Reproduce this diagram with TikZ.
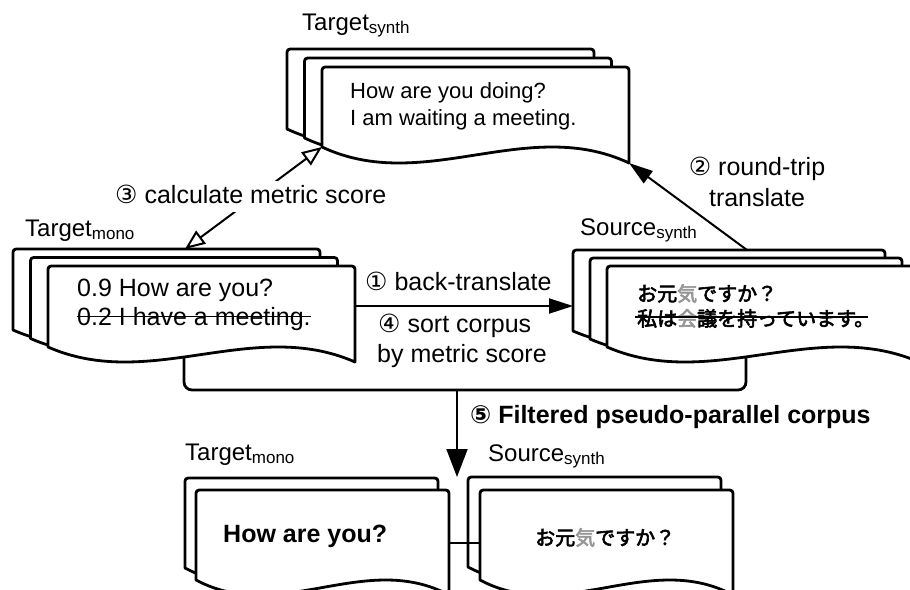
\documentclass[tikz,border=0pt]{standalone}
\usepackage{fontspec}
\setmainfont{Liberation Sans}
\newfontfamily\circfont{DejaVu Sans}
\newfontfamily\jpfont[AutoFakeBold=3]{Noto Sans CJK JP}
\usetikzlibrary{arrows.meta}
\definecolor{kanjigray}{RGB}{150,150,150}

% One sheet of a document stack: name, left x, top y, width, height, wave depth.
% Top corners rounded, wavy bottom edge; named corner coordinates are kept.
\newcommand{\docpage}[6]{%
  \filldraw[docline] ({#2},{#3+#5}) -- ({#2},{#3+7}) .. controls ({#2},{#3}) .. ({#2+7},{#3})
    -- ({#2+#4-7},{#3}) .. controls ({#2+#4},{#3}) .. ({#2+#4},{#3+7})
    -- ({#2+#4},{#3+#5+#6})
    .. controls ({#2+2*#4/3},{#3+#5-2*#6}) and ({#2+#4/3},{#3+#5+3*#6}) .. ({#2},{#3+#5})
    -- cycle;
  \coordinate (#1-tl) at ({#2},{#3});
  \coordinate (#1-tr) at ({#2+#4},{#3});
  \coordinate (#1-bl) at ({#2},{#3+#5});
  \coordinate (#1-br) at ({#2+#4},{#3+#5+#6});
}
\newcommand{\subtxt}[1]{{\fontsize{17}{17}\selectfont\raisebox{-3pt}{#1}}}

\begin{document}
\begin{tikzpicture}[x=1pt,y=-1pt,
  docline/.style={draw=black, fill=white, line width=2.8pt, line join=round},
  groupline/.style={draw=black, line width=2.8pt, rounded corners=8pt},
  flow/.style={draw=black, line width=2pt, -{Triangle[length=24pt,width=15pt]}},
  bigflow/.style={draw=black, line width=2pt, -{Triangle[length=28pt,width=21pt]}},
  metric/.style={draw=black, line width=2pt,
    {Triangle[open,length=20pt,width=16pt]}-{Triangle[open,length=20pt,width=16pt]}},
  strike/.style={draw=black, line width=1.5pt},
  link/.style={draw=black, line width=2.8pt},
  lbl/.style={inner sep=0pt, font=\fontsize{25}{30}\selectfont},
  title/.style={inner sep=0pt, font=\fontsize{24}{28}\selectfont},
  txtS/.style={inner sep=0pt, font=\fontsize{22}{26}\selectfont},
  txtM/.style={inner sep=0pt, font=\fontsize{25}{30}\selectfont},
  txtB/.style={inner sep=0pt, font=\fontsize{25}{30}\selectfont\bfseries},
  jptxt/.style={inner sep=0pt, font=\fontsize{20}{24}\selectfont\jpfont\bfseries},
]
\useasboundingbox (0,0) rectangle (910,589);
\clip (0,0) rectangle (910,589);

% frame joining the two upper stacks
\coordinate (grpL) at (184,330);
\coordinate (grpR) at (746,330);
\coordinate (grpM) at (457,390);
\draw[groupline] (grpL) -- (184,390) -- (746,390) -- (grpR);

% Target_synth stack
\docpage{tsB}{287}{49}{307}{80}{16}
\docpage{tsM}{304.5}{58}{307}{80}{16}
\docpage{tsF}{322}{67}{307}{80}{16}

% Target_mono stack
\docpage{tmB}{13}{249}{307}{81}{15}
\docpage{tmM}{30.5}{257.5}{307}{81}{15}
\docpage{tmF}{48}{266}{307}{81}{15}

% Source_synth stack
\docpage{ssB}{573}{250}{312}{81}{15}
\docpage{ssM}{590}{258}{312}{81}{15}
\docpage{ssF}{607}{266}{312}{81}{15}

% filtered corpus stacks
\docpage{ftB}{185}{478}{253}{90}{15}
\docpage{ftF}{196}{490}{253}{90}{15}
\docpage{fsB}{468}{477}{253}{90}{15}
\docpage{fsF}{480}{490}{253}{90}{15}

% connectors
\coordinate (btS) at (355,306);
\coordinate (btE) at (573,306);
\coordinate (rtS) at (747,250);
\coordinate (mtS) at (185,249);
\coordinate (fpE) at (457,477);
\coordinate (pairL) at (449,543);
\coordinate (pairR) at (480,543);

\draw[flow] (btS) -- (btE);
\draw[flow] (rtS) -- (tsF-br);
\draw[metric] (mtS) -- (tsF-bl);
\draw[bigflow] (grpM) -- (fpE);
\draw[link] (pairL) -- (pairR);

% stack titles
\node[title, anchor=base west] (tTS) at (302,30) {Target\subtxt{synth}};
\node[title, anchor=base west] (tTM) at (25,236) {Target\subtxt{mono}};
\node[title, anchor=base west] (tSS) at (580,235) {Source\subtxt{synth}};
\node[title, anchor=base west] (tFT) at (185,460) {Target\subtxt{mono}};
\node[title, anchor=base west] (tFS) at (488,461) {Source\subtxt{synth}};

% sheet contents
\node[txtS, anchor=base west] (ts1) at (350,98) {How are you doing?};
\node[txtS, anchor=base west] (ts2) at (350,125) {I am waiting a meeting.};

\node[txtM, anchor=base west] (tm1) at (77,296) {0.9 How are you?};
\node[txtM, anchor=base west] (tm2) at (77,325) {0.2 I have a meeting.};
\draw[strike] ([yshift=8.5pt]tm2.base west) -- ([yshift=8.5pt]tm2.base east);

\node[jptxt, anchor=base west] (ss1) at (637,301) {お元{\color{kanjigray}気}ですか？};
\node[jptxt, anchor=base west] (ss2) at (637,326) {私は{\color{kanjigray}会}議を持っています。};
\draw[strike] ([xshift=-2pt,yshift=9pt]ss2.base west) -- ([xshift=-6pt,yshift=9pt]ss2.base east);

\node[txtB, anchor=base west] (ft1) at (223,542) {How are you?};
\node[jptxt, anchor=base west] (fs1) at (535,545) {お元{\color{kanjigray}気}ですか？};

% step labels
\node[lbl, anchor=base west, fill=white, inner sep=3pt, text height=19pt, text depth=6pt]
  (l3) at (112,203) {{\circfont ③} calculate metric score};
\node[lbl, anchor=base west] (l1) at (365,290) {{\circfont ①} back-translate};
\node[lbl, anchor=base west] (l4a) at (378,332) {{\circfont ④} sort corpus};
\node[lbl, anchor=base west] (l4b) at (377,362) {by metric score};
\node[lbl, anchor=base] (l2a) at (757,175) {{\circfont ②} round-trip};
\node[lbl, anchor=base] (l2b) at (757,206) {translate};
\node[lbl, anchor=base west, font=\fontsize{25}{30}\selectfont\bfseries] (l5) at (470,423)
  {{\circfont ⑤} Filtered pseudo-parallel corpus};
\end{tikzpicture}
\end{document}
